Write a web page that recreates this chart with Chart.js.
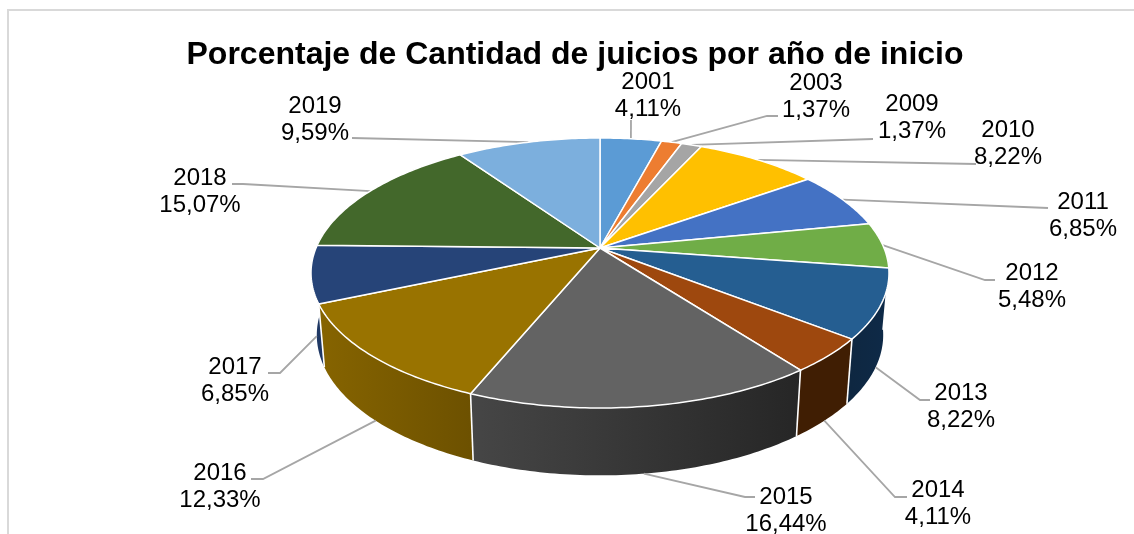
<!DOCTYPE html>
<html><head><meta charset="utf-8">
<style>html,body{margin:0;padding:0;background:#fff;overflow:hidden}canvas{display:block}</style>
<script src="https://cdn.jsdelivr.net/npm/chart.js@4"></script></head>
<body><canvas id="c" width="1134" height="534"></canvas>
<script>
const categories=['2001','2003','2009','2010','2011','2012','2013','2014','2015','2016','2017','2018','2019'];
const percentages=[4.11,1.37,1.37,8.22,6.85,5.48,8.22,4.11,16.44,12.33,6.85,15.07,9.59];
const percentLabels=['4,11%','1,37%','1,37%','8,22%','6,85%','5,48%','8,22%','4,11%','16,44%','12,33%','6,85%','15,07%','9,59%'];
const titleText='Porcentaje de Cantidad de juicios por año de inicio';

const topColors=['#5B9BD5','#ED7D31','#A5A5A5','#FFC000','#4472C4','#70AD47','#255E91','#9E480E','#636363','#997300','#264478','#43682B','#7CAFDD'];
const wallColors=[['#2e5f8c','#2e5f8c'],['#8a4a1c','#8a4a1c'],['#666','#666'],['#8f6c00','#8f6c00'],['#223962','#223962'],['#385724','#385724'],['#0e2741','#0e2a48'],['#401e03','#401e03'],['#464646','#262626'],['#866400','#6d5100'],['#1f3864','#1f3864'],['#2a411b','#2a411b'],['#4a7fae','#4a7fae']];
// label centre x, first line centre y
const labelPos=[[648,82],[816,83],[912,104],[1008,130],[1083,202],[1032,273],[961,393],[938,490],[786,497],[220,473],[235,367],[200,178],[315,106]];
// remaining leader vertices after the rim point
const leaderPts=[[[631,120]],[[767,116],[778,116]],[[873,139]],[[976,164]],[[1048,208]],[[985,280],[995,280]],[[920,400],[930,400]],[[895,497],[907,497]],[[745,497],[755,497]],[[263,479],[251,479]],[[280,373],[268,373]],[[243,184],[232,184]],[[352,138]]];

// projection of the pie disc
const CX=600,APEX=248,K=284,PA=84.5,PC=-0.185,DEPTH=61,SHRINK=0.98,YSCALE=1.04;
function proj(a,level){
  const u=Math.cos(a),v=Math.sin(a),d=1+PC*v;
  let x=K*u/d, y=(PA*v+APEX)/d-APEX;
  if(level){x*=SHRINK;y=y*YSCALE+DEPTH;}
  return [CX+x,APEX+y];
}
function rimPath(ctx,a0,a1,level,move){
  const n=Math.max(2,Math.ceil(Math.abs(a1-a0)/0.015));
  for(let i=0;i<=n;i++){
    const p=proj(a0+(a1-a0)*i/n,level);
    if(i===0&&move)ctx.moveTo(p[0],p[1]);else ctx.lineTo(p[0],p[1]);
  }
}
const pie3d={
  id:'pie3d',
  beforeDatasetsDraw(chart){
    const ctx=chart.ctx,arcs=chart.getDatasetMeta(0).data;
    ctx.save();
    // frame
    ctx.strokeStyle='#d9d9d9';ctx.lineWidth=2;ctx.beginPath();
    ctx.moveTo(8,534);ctx.lineTo(8,10);ctx.lineTo(1134,10);ctx.stroke();
    // side walls, rear to front
    const order=arcs.map((_,i)=>i).sort((p,q)=>{
      const m=i=>Math.sin((arcs[i].startAngle+arcs[i].endAngle)/2);return m(p)-m(q);});
    order.forEach(i=>{
      const s=arcs[i].startAngle,e=arcs[i].endAngle;
      const a0=Math.max(s,-0.12),a1=Math.min(e,Math.PI+0.12);
      if(a1<=a0)return;
      const xa=proj(a0,0)[0],xb=proj(a1,0)[0];
      const l=Math.min(xa,xb),r=Math.max(xa,xb);
      const g=ctx.createLinearGradient(l,0,r+0.01,0);
      g.addColorStop(0,wallColors[i][0]);g.addColorStop(1,wallColors[i][1]);
      ctx.fillStyle=g;ctx.beginPath();
      rimPath(ctx,a0,a1,0,true);rimPath(ctx,a1,a0,1,false);ctx.closePath();ctx.fill();
    });
    // white seams between visible walls
    ctx.strokeStyle='#ffffff';ctx.lineWidth=1.6;
    arcs.forEach(arc=>{
      const a=arc.startAngle;
      if(a>0.05&&a<Math.PI-0.05){
        const p=proj(a,0),q=proj(a,1);
        ctx.beginPath();ctx.moveTo(p[0],p[1]);ctx.lineTo(q[0],q[1]);ctx.stroke();
      }
    });
    // leaders
    ctx.strokeStyle='#a6a6a6';ctx.lineWidth=1.8;
    arcs.forEach((arc,i)=>{
      const m=(arc.startAngle+arc.endAngle)/2,front=Math.sin(m)>0.1;
      const p=proj(m,front?1:0);
      ctx.beginPath();ctx.moveTo(p[0],p[1]);
      leaderPts[i].forEach(q=>ctx.lineTo(q[0],q[1]));ctx.stroke();
    });
    // top faces
    arcs.forEach((arc,i)=>{
      ctx.beginPath();ctx.moveTo(CX,APEX);
      rimPath(ctx,arc.startAngle,arc.endAngle,0,false);ctx.closePath();
      ctx.fillStyle=topColors[i];ctx.fill();
      ctx.strokeStyle='#ffffff';ctx.lineWidth=1.5;ctx.lineJoin='round';ctx.stroke();
    });
    // labels
    ctx.fillStyle='#000';ctx.font='24px "Liberation Sans"';ctx.textAlign='center';ctx.textBaseline='middle';
    categories.forEach((c,i)=>{
      const [x,y]=labelPos[i];
      ctx.fillText(c,x,y);
      ctx.fillText(percentLabels[i],x,y+27);
    });
    ctx.restore();
    return false;
  }
};
new Chart(document.getElementById('c'),{
  type:'pie',
  data:{labels:categories,datasets:[{data:percentages,backgroundColor:topColors,borderColor:'#fff'}]},
  options:{
    responsive:false,animation:false,
    layout:{padding:{left:16,right:0,top:0,bottom:0}},
    plugins:{
      legend:{display:false},tooltip:{enabled:false},
      title:{display:true,text:titleText,color:'#000',fullSize:false,
        font:{family:'"Liberation Sans"',size:32,weight:'bold'},padding:{top:36,bottom:0}}
    }
  },
  plugins:[pie3d]
});
</script></body></html>
